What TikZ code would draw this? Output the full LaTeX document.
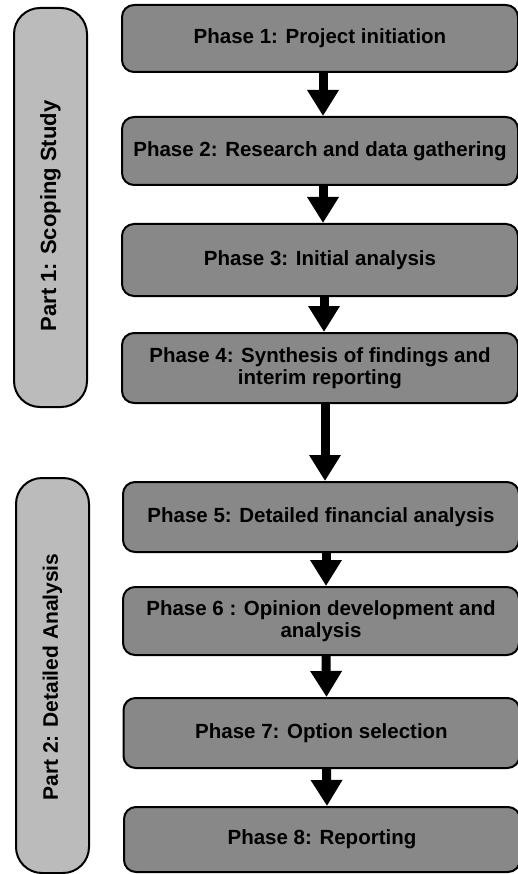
\documentclass[tikz,border=0pt]{standalone}
\usepackage{fontspec}
\setmainfont{Liberation Sans}
\usetikzlibrary{arrows.meta}
\definecolor{phasefill}{HTML}{888888}
\definecolor{partfill}{HTML}{BBBBBB}
\begin{document}
\begin{tikzpicture}[x=1pt,y=-1pt,
  phasebox/.style={draw=black,line width=2pt,fill=phasefill,rounded corners=12pt,
    minimum width=396pt,minimum height=68pt,inner sep=0pt,align=center,
    font=\fontsize{20.5}{21.5}\selectfont\bfseries},
  partbox/.style={draw=black,line width=2pt,fill=partfill,rounded corners=26pt,
    minimum width=73pt,inner sep=0pt},
  parttext/.style={rotate=90,font=\fontsize{21}{23}\selectfont\bfseries},
  arr/.style={line width=9pt,-{Triangle[width=30pt,length=26pt]}}]
\useasboundingbox (0,0) rectangle (518,874);
\node[partbox,minimum height=399pt] (part1) at (50.5,207.5) {};
\node[parttext,font=\fontsize{22}{24}\selectfont\bfseries] (part1t) at (50.5,216) {Part 1: Scoping Study};
\node[partbox,minimum height=395pt] (part2) at (52.5,675.5) {};
\node[parttext] (part2t) at (52.5,677) {Part 2: Detailed Analysis};
\node[phasebox,minimum height=67pt] (p1) at (320,38.5) {Phase 1: Project initiation};
\node[phasebox,minimum height=68pt] (p2) at (320,151) {Phase 2: Research and data gathering};
\node[phasebox,minimum height=72pt] (p3) at (320,260) {Phase 3: Initial analysis};
\node[phasebox,minimum height=70pt] (p4) at (320,368) {Phase 4: Synthesis of findings and\\interim reporting};
\node[phasebox,minimum height=70pt] (p5) at (321,517) {Phase 5: Detailed financial analysis};
\node[phasebox,minimum height=68pt] (p6) at (321,621) {Phase 6 : Opinion development and\\analysis};
\node[phasebox,minimum height=70pt] (p7) at (321.5,733) {Phase 7: Option selection};
\node[phasebox,minimum height=65pt] (p8) at (322,839.5) {Phase 8: Reporting};
\draw[arr] ([xshift=3pt]p1.south) -- ([xshift=3pt]p2.north);
\draw[arr] ([xshift=3pt]p2.south) -- ([xshift=3pt]p3.north);
\draw[arr] ([xshift=4pt]p3.south) -- ([xshift=4pt]p4.north);
\draw[arr] ([xshift=5pt]p4.south) -- ([xshift=4pt]p5.north);
\draw[arr] ([xshift=5pt]p5.south) -- ([xshift=5pt]p6.north);
\draw[arr] ([xshift=5pt]p6.south) -- ([xshift=5pt]p7.north);
\draw[arr] ([xshift=5pt]p7.south) -- ([xshift=5pt]p8.north);
\end{tikzpicture}
\end{document}
